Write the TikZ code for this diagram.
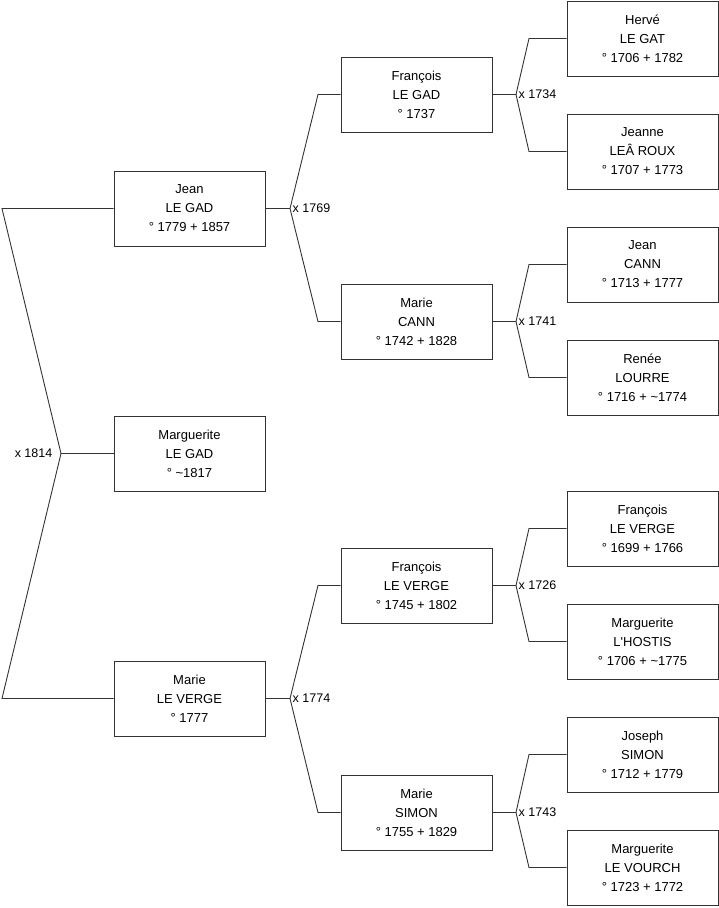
\documentclass[tikz,border=0pt]{standalone}
\usepackage{fontspec}
\setmainfont{Liberation Sans}
\definecolor{lin}{HTML}{333333}
\begin{document}
\begin{tikzpicture}[x=1pt,y=-1pt,
  person/.style={draw=lin,line width=0.9pt,fill=white,minimum width=151pt,minimum height=75pt,inner sep=0pt,align=center,font=\fontsize{13}{19}\selectfont},
  conn/.style={draw=lin,line width=0.9pt},
  mlabel/.style={font=\fontsize{12.5}{14}\selectfont,inner sep=1.5pt}]
\useasboundingbox (0,0) rectangle (719,908);
% column 1
\node[person] (jean) at (189.5,208.5) {Jean\\LE GAD\\° 1779 + 1857};
\node[person] (marg) at (189.5,453.5) {Marguerite\\LE GAD\\° \textasciitilde1817};
\node[person] (mariev) at (189.5,698.5) {Marie\\LE VERGE\\° 1777};
% column 2
\node[person] (fg) at (416.5,94.5) {François\\LE GAD\\° 1737};
\node[person] (mc) at (416.5,321.5) {Marie\\CANN\\° 1742 + 1828};
\node[person] (fv) at (416.5,585.5) {François\\LE VERGE\\° 1745 + 1802};
\node[person] (ms) at (416.5,812.5) {Marie\\SIMON\\° 1755 + 1829};
% column 3
\node[person] (hg) at (642.5,38.5) {Hervé\\LE GAT\\° 1706 + 1782};
\node[person] (jr) at (642.5,151.5) {Jeanne\\LEÂ ROUX\\° 1707 + 1773};
\node[person] (jc) at (642.5,264.5) {Jean\\CANN\\° 1713 + 1777};
\node[person] (rl) at (642.5,377.5) {Renée\\LOURRE\\° 1716 + \textasciitilde1774};
\node[person] (fl) at (642.5,528.5) {François\\LE VERGE\\° 1699 + 1766};
\node[person] (mh) at (642.5,641.5) {Marguerite\\L\textquotesingle HOSTIS\\° 1706 + \textasciitilde1775};
\node[person] (js) at (642.5,754.5) {Joseph\\SIMON\\° 1712 + 1779};
\node[person] (mv) at (642.5,867.5) {Marguerite\\LE VOURCH\\° 1723 + 1772};
% junctions and corners
\coordinate (j0) at (61,453.5);
\coordinate (c0a) at (2,208.5);
\coordinate (c0b) at (2,698.5);
\coordinate (j1) at (290,208.5);
\coordinate (c1a) at (318,94.5);
\coordinate (c1b) at (318,321.5);
\coordinate (j2) at (290,698.5);
\coordinate (c2a) at (318,585.5);
\coordinate (c2b) at (318,812.5);
\coordinate (j3) at (516,94.5);
\coordinate (c3a) at (529,38.5);
\coordinate (c3b) at (529,151.5);
\coordinate (j4) at (516,321.5);
\coordinate (c4a) at (529,264.5);
\coordinate (c4b) at (529,377.5);
\coordinate (j5) at (516,585.5);
\coordinate (c5a) at (529,528.5);
\coordinate (c5b) at (529,641.5);
\coordinate (j6) at (516,812.5);
\coordinate (c6a) at (529,754.5);
\coordinate (c6b) at (529,867.5);
% connectors
\draw[conn] (jean.west) -- (c0a) -- (j0) -- (c0b) -- (mariev.west);
\draw[conn] (j0) -- (marg.west);
\draw[conn] (jean.east) -- (j1);
\draw[conn] (fg.west) -- (c1a) -- (j1) -- (c1b) -- (mc.west);
\draw[conn] (mariev.east) -- (j2);
\draw[conn] (fv.west) -- (c2a) -- (j2) -- (c2b) -- (ms.west);
\draw[conn] (fg.east) -- (j3);
\draw[conn] (hg.west) -- (c3a) -- (j3) -- (c3b) -- (jr.west);
\draw[conn] (mc.east) -- (j4);
\draw[conn] (jc.west) -- (c4a) -- (j4) -- (c4b) -- (rl.west);
\draw[conn] (fv.east) -- (j5);
\draw[conn] (fl.west) -- (c5a) -- (j5) -- (c5b) -- (mh.west);
\draw[conn] (ms.east) -- (j6);
\draw[conn] (js.west) -- (c6a) -- (j6) -- (c6b) -- (mv.west);
% marriage labels
\node[mlabel,anchor=east] (m0) at (54,453.5) {x 1814};
\node[mlabel,anchor=west] (m1) at (291,208.5) {x 1769};
\node[mlabel,anchor=west] (m2) at (291,698.5) {x 1774};
\node[mlabel,anchor=west] (m3) at (517,94.5) {x 1734};
\node[mlabel,anchor=west] (m4) at (517,321.5) {x 1741};
\node[mlabel,anchor=west] (m5) at (517,585.5) {x 1726};
\node[mlabel,anchor=west] (m6) at (517,812.5) {x 1743};
\end{tikzpicture}
\end{document}
